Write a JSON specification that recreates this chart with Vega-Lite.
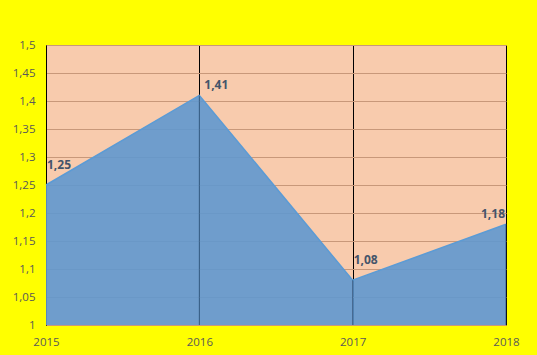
{
  "$schema": "https://vega.github.io/schema/vega-lite/v6.json",
  "width": 460,
  "height": 280,
  "autosize": {"type": "none"},
  "padding": {"left": 46, "top": 45, "right": 31, "bottom": 30},
  "background": "#ffff00",
  "config": {
    "locale": {"number": {"decimal": ",", "thousands": ".", "grouping": [3], "currency": ["", " €"]}},
    "view": {"fill": "#f8cbad", "stroke": null},
    "font": "Open Sans"
  },
  "data": {"values": [
    {"year": 2015, "value": 1.25},
    {"year": 2016, "value": 1.41},
    {"year": 2017, "value": 1.08},
    {"year": 2018, "value": 1.18}
  ]},
  "encoding": {
    "x": {"field": "year", "type": "quantitative", "scale": {"domain": [2015, 2018], "nice": false, "zero": false},
      "axis": {"title": null, "values": [2015, 2016, 2017, 2018], "format": "d", "grid": true, "gridColor": "#000000", "gridWidth": 1,
        "domain": false, "ticks": false, "labelFlush": false, "labelBound": false, "labelColor": "#595959", "labelFontSize": 11.5, "labelPadding": 11, "labelFont": "Open Sans"}},
    "y": {"field": "value", "type": "quantitative", "scale": {"domain": [1, 1.5], "nice": false, "zero": false},
      "axis": {"title": null, "values": [1, 1.05, 1.1, 1.15, 1.2, 1.25, 1.3, 1.35, 1.4, 1.45, 1.5], "format": ".2~f",
        "grid": true, "gridColor": "#c8987a", "gridWidth": 1, "domain": true, "domainColor": "#000000", "domainWidth": 1,
        "ticks": false, "labelColor": "#595959", "labelFontSize": 11.5, "labelPadding": 11, "labelFont": "Open Sans"}}
  },
  "layer": [
    {"mark": {"type": "area", "color": "#5f98cf", "opacity": 0.9, "line": {"color": "#5b9bd5", "strokeWidth": 1.5}},
      "encoding": {"y2": {"datum": 1}}},
    {"mark": {"type": "rule", "color": "#1f3a5a", "strokeWidth": 1, "opacity": 0.6},
      "transform": [{"filter": "datum.year > 2015"}],
      "encoding": {"y": {"datum": 1}, "y2": {"field": "value"}}},
    {"mark": {"type": "text", "fontWeight": "bold", "fontSize": 12, "color": "#44546a", "dy": -20, "dx": 1, "align": "left", "font": "Open Sans"},
      "transform": [{"filter": "datum.year == 2015 || datum.year == 2017"}],
      "encoding": {"text": {"field": "value", "type": "quantitative", "format": ".2f"}}},
    {"mark": {"type": "text", "fontWeight": "bold", "fontSize": 12, "color": "#44546a", "dy": -10, "dx": 5, "align": "left", "font": "Open Sans"},
      "transform": [{"filter": "datum.year == 2016"}],
      "encoding": {"text": {"field": "value", "type": "quantitative", "format": ".2f"}}},
    {"mark": {"type": "text", "fontWeight": "bold", "fontSize": 12, "color": "#44546a", "dy": -10, "dx": -1, "align": "right", "font": "Open Sans"},
      "transform": [{"filter": "datum.year == 2018"}],
      "encoding": {"text": {"field": "value", "type": "quantitative", "format": ".2f"}}}
  ]
}
